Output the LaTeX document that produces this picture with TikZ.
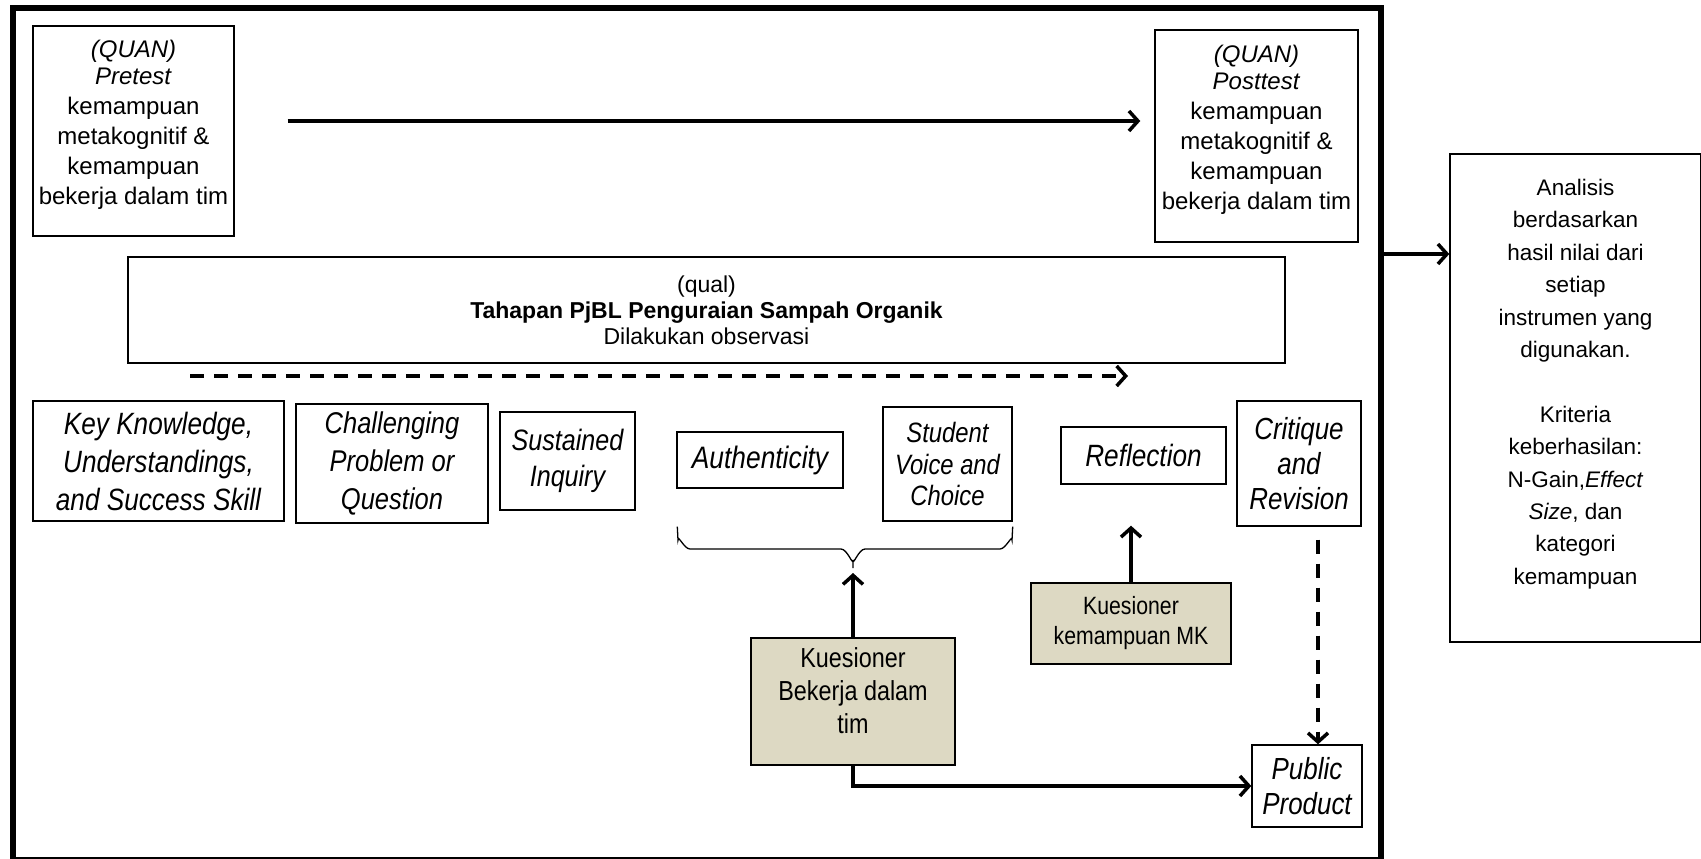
\documentclass[tikz,border=0pt]{standalone}
\usepackage{fontspec}
\setmainfont{Liberation Sans}
\newfontfamily\narrowf[FakeStretch=0.85]{Liberation Sans}
\usetikzlibrary{arrows.meta,calc}
\definecolor{beige}{HTML}{DDD9C3}
\newcommand{\fs}[2]{\fontsize{#1}{#2}\selectfont}
\begin{document}
\begin{tikzpicture}[x=1pt,y=-1pt,
  box/.style={draw, line width=1.4pt, align=center, inner sep=0pt, font=\fs{24}{30}},
  ibox/.style={box, font=\narrowf\itshape\fs{30.5}{36}},
  qbox/.style={box, fill=beige, font=\narrowf\fs{25}{30}},
  arr/.style={line width=3.5pt, -{Straight Barb[length=9pt,width=20pt]}},
  darr/.style={arr, dash pattern=on 14pt off 10pt},
  bracestyle/.style={line width=1.3pt}]
\useasboundingbox (0,0) rectangle (1701,859);
\fill[white] (0,0) rectangle (1701,859);
% outer frame
\node[draw, line width=6pt, minimum width=1368pt, minimum height=852pt, inner sep=0pt] (frame) at (697,434) {};
% boxes
\node[box, minimum width=201pt, minimum height=210pt] (pre) at (133.5,131)
  {\textit{(QUAN)}\\[-3pt]\textit{Pretest}\\kemampuan\\metakognitif \&\\kemampuan\\bekerja dalam tim\\[-12pt]\mbox{}};
\node[box, minimum width=203pt, minimum height=212pt] (post) at (1256.5,136)
  {\textit{(QUAN)}\\[-3pt]\textit{Posttest}\\kemampuan\\metakognitif \&\\kemampuan\\bekerja dalam tim\\[-12pt]\mbox{}};
\node[box, minimum width=1157pt, minimum height=106pt, font=\fs{23}{26}] (qual) at (706.5,310)
  {(qual)\\\textbf{Tahapan PjBL Penguraian Sampah Organik}\\Dilakukan observasi};
\node[ibox, minimum width=251pt, minimum height=120pt, font=\narrowf\itshape\fs{30.8}{38}] (key) at (158.5,461)
  {Key Knowledge,\\Understandings,\\and Success Skill};
\node[ibox, minimum width=192pt, minimum height=119pt, font=\narrowf\itshape\fs{30}{38}] (chal) at (392,463.5)
  {Challenging\\Problem or\\Question};
\node[ibox, minimum width=135pt, minimum height=98pt, font=\narrowf\itshape\fs{29.5}{36}] (sust) at (567.5,461)
  {Sustained\\Inquiry};
\node[ibox, minimum width=166pt, minimum height=56pt, font=\narrowf\itshape\fs{31}{36}] (auth) at (760,460)
  {Authenticity};
\node[ibox, minimum width=129pt, minimum height=114pt, font=\narrowf\itshape\fs{28}{31.5}] (voice) at (947.5,464)
  {Student\\Voice and\\Choice};
\node[ibox, minimum width=165pt, minimum height=57pt, font=\narrowf\itshape\fs{30.8}{36}] (refl) at (1143.5,455.5)
  {Reflection};
\node[ibox, minimum width=124pt, minimum height=125pt, font=\narrowf\itshape\fs{30.5}{35}] (crit) at (1299,463.5)
  {Critique\\and\\Revision};
\node[qbox, minimum width=204pt, minimum height=127pt, font=\narrowf\fs{27.5}{33}] (kb) at (853,701.5)
  {Kuesioner\\Bekerja dalam\\tim\\[-11pt]\mbox{}};
\node[qbox, minimum width=200pt, minimum height=81pt] (mk) at (1131,623.5)
  {Kuesioner\\kemampuan MK};
\node[ibox, minimum width=110pt, minimum height=82pt, font=\narrowf\itshape\fs{30.5}{35}] (pp) at (1307,786)
  {Public\\Product};
\node[box, minimum width=251pt, minimum height=488pt, font=\fs{22.5}{32.4}] (an) at (1575.5,398)
  {Analisis\\berdasarkan\\hasil nilai dari\\setiap\\instrumen yang\\digunakan.\\[32.4pt]Kriteria\\keberhasilan:\\N-Gain,\textit{Effect}\\\textit{Size}, dan\\kategori\\kemampuan\\\mbox{}};
% coordinates
\coordinate (dS) at (190,376);
\coordinate (dE) at (1128,376);
\path (frame.north east) ++(0,249) coordinate (frE);
\coordinate (bL) at ($(auth.south west)+(1,38)$);
\coordinate (bR) at ($(voice.south east)+(0,5)$);
\coordinate (bT) at (853,568);
% brace
\draw[bracestyle] (bL) -- (678,540) to[out=90,in=180] (690,549) -- (841,549) to[out=0,in=-90] (853,560) -- (bT);
\draw[bracestyle] (bR) -- (1012,540) to[out=90,in=0] (1000,549) -- (865,549) to[out=180,in=-90] (853,560);
% connectors
\draw[arr, shorten <=53pt, shorten >=14pt] ($(pre.east)+(0,-10)$) -- ($(post.west)+(0,-15)$);
\draw[darr] (dS) -- (dE);
\draw[arr] (frE) -- (an.west |- frE);
\draw[arr, shorten >=5pt] (kb.north) -- (bT);
\draw[arr, shorten >=41pt] (mk.north) -- (mk.north |- refl.south);
\draw[darr] ($(crit.south)+(19,13)$) -- ($(pp.north)+(11,0)$);
\draw[arr] (kb.south) |- (pp.west);
\end{tikzpicture}
\end{document}
